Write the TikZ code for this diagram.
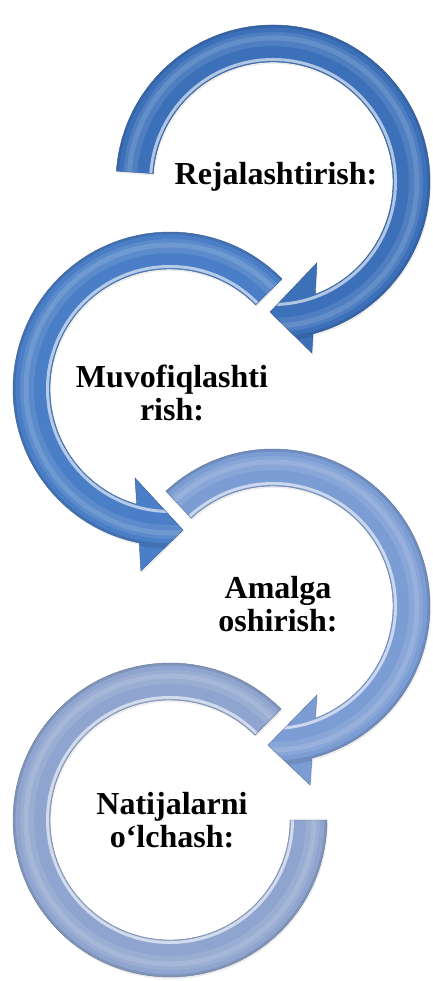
\documentclass[tikz,border=0pt]{standalone}
\usepackage{fontspec}
\setmainfont{Liberation Serif}
\usetikzlibrary{shadows}

\definecolor{planblue}{RGB}{60,113,186}
\definecolor{coordblue}{RGB}{74,126,198}
\definecolor{execblue}{RGB}{124,156,212}
\definecolor{measureblue}{RGB}{143,165,207}

\begin{document}
\begin{tikzpicture}[x=1pt, y=1pt]

% Define styles
\tikzstyle{stagetext} = [align=center, font=\fontsize{32}{33}\selectfont\bfseries, inner sep=0pt]
\tikzstyle{ring} = [line width=0.4pt, drop shadow={opacity=0.15, shadow xshift=1pt, shadow yshift=-2pt}]
\tikzset{tube/.style={path picture={
  \draw[white, opacity=0.6, line width=3] (#1) circle[radius=122.5];
  \draw[white, opacity=0.1, line width=14] (#1) circle[radius=143];
  \draw[white, opacity=0.12, line width=5] (#1) circle[radius=144];
  \draw[black, opacity=0.1, line width=5] (#1) circle[radius=157];
}}}

\useasboundingbox (0,0) rectangle (433,981);

% Centres of the rings
\coordinate (c1) at (273,799);
\coordinate (c2) at (170,592);
\coordinate (c3) at (273,375);
\coordinate (c4) at (170,161);

% Arrows
\begin{scope}[shift={(c1)}]
\filldraw[ring, fill=planblue, draw=planblue!75!black, tube=c1]
  (176:157) arc[start angle=176, end angle=-75.2, radius=157]
  -- (-77.2:175.4) -- (-91.3:130) -- (-61.5:92) -- (-69.4:120)
  arc[start angle=-69.4, end angle=176, radius=120] -- cycle;
\end{scope}

\begin{scope}[shift={(c2)}]
\filldraw[ring, fill=coordblue, draw=coordblue!75!black, tube=c2]
  (44.5:157) arc[start angle=44.5, end angle=258.7, radius=157]
  -- (260.9:184.3) -- (275.3:141.6) -- (248.5:95.6) -- (253.9:120)
  arc[start angle=253.9, end angle=44.5, radius=120] -- cycle;
\end{scope}

\begin{scope}[shift={(c3)}]
\filldraw[ring, fill=execblue, draw=execblue!75!black, tube=c3]
  (133:157) arc[start angle=133, end angle=-75.6, radius=157]
  -- (-78.3:182.8) -- (-92.1:139.1) -- (-63.7:99.3) -- (-69.4:120)
  arc[start angle=-69.4, end angle=133, radius=120] -- cycle;
\end{scope}

\begin{scope}[shift={(c4)}]
\filldraw[ring, fill=measureblue, draw=measureblue!75!black, tube=c4]
  (45:157) arc[start angle=45, end angle=360, radius=157]
  -- (0:120) arc[start angle=360, end angle=45, radius=120] -- cycle;
\end{scope}

% Nodes
\node[stagetext] (plan) at (276,804) {Rejalashtirish:};
\node[stagetext] (coord) at (172,588) {Muvofiqlashti\\rish:};
\node[stagetext] (exec) at (278,377) {Amalga\\oshirish:};
\node[stagetext] (measure) at (172,161) {Natijalarni\\o‘lchash:};

\end{tikzpicture}
\end{document}
